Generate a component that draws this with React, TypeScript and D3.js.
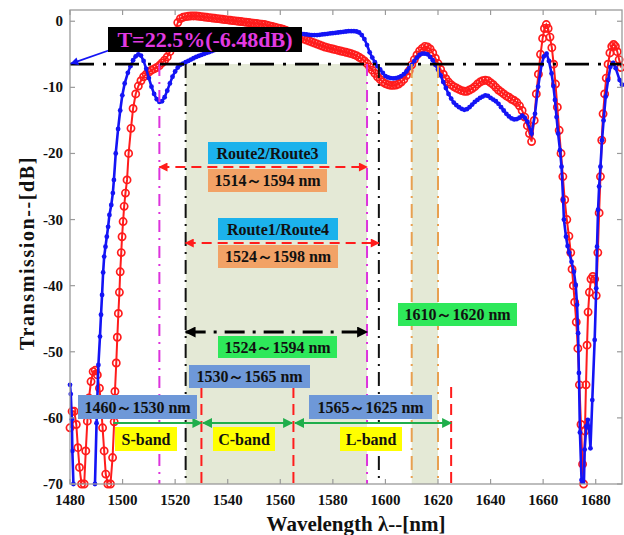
import React from 'react';
import * as d3 from 'd3';

const xTicks = [1480, 1500, 1520, 1540, 1560, 1580, 1600, 1620, 1640, 1660, 1680];
const yTicks = [0, -10, -20, -30, -40, -50, -60, -70];

const thresholdDb = -6.48;
const shadedBands: [number, number][] = [[1524, 1593], [1610, 1620]];
const magentaLines = [1514, 1593];
const blackLines = [1524, 1597.5];
const orangeLines = [1610, 1620];
const redBandLines = [1530, 1565, 1625];

const redSeries: [number, number][] = [
  [1480, -61.5], [1480.8, -59], [1481.6, -59], [1482.4, -61], [1483, -64.5], [1483.6, -67.5], [1484.4, -70], [1485.4, -70],
  [1486, -65], [1486.6, -60.5], [1487.2, -57], [1488, -54.5], [1488.8, -53], [1489.6, -52.8], [1490.4, -53.5], [1491.2, -55.5],
  [1491.8, -58], [1492.4, -61.5], [1493, -65], [1493.6, -68.5], [1494.4, -70], [1495.4, -70], [1496.2, -66], [1496.8, -60.6],
  [1497.1, -56], [1497.6, -51.7], [1498, -47.8], [1498.4, -44.2], [1498.8, -41], [1499.1, -37.9], [1499.5, -35], [1499.8, -32.6],
  [1500.2, -30.3], [1500.6, -28], [1501.1, -26], [1501.7, -24], [1502.3, -20], [1503.2, -16.2], [1504, -13.2],
  [1505, -11], [1506, -9.8], [1507, -9], [1508, -8.4], [1509, -8], [1510, -7.7], [1511, -7.4], [1512, -7.2], [1513, -7],
  [1514, -6.7], [1515, -6.3], [1516, -5.9], [1517, -5.4], [1518, -4.6], [1519, -3.2], [1520, -1.5], [1521, -0.2],
  [1522, 0.4], [1523, 0.6], [1524, 0.7], [1525, 0.75], [1526, 0.8], [1527, 0.8], [1528, 0.8], [1529, 0.75], [1530, 0.7],
  [1531, 0.65], [1532, 0.6], [1533, 0.55], [1534, 0.5], [1535, 0.45], [1536, 0.4], [1537, 0.35], [1538, 0.3], [1539, 0.25],
  [1540, 0.2], [1541, 0.15], [1542, 0.1], [1543, 0.05], [1544, 0], [1545, -0.05], [1546, -0.1], [1547, -0.15], [1548, -0.2],
  [1549, -0.25], [1550, -0.3], [1551, -0.35], [1552, -0.4], [1553, -0.45], [1554, -0.5], [1555, -0.6], [1556, -0.7],
  [1557, -0.8], [1558, -0.9], [1559, -1], [1560, -1.1], [1561, -1.2], [1562, -1.35], [1563, -1.5], [1564, -1.7], [1565, -1.9],
  [1566, -2.1], [1567, -2.3], [1568, -2.5], [1569, -2.7], [1570, -2.85], [1571, -3], [1572, -3.15], [1573, -3.3],
  [1574, -3.45], [1575, -3.6], [1576, -3.75], [1577, -3.9], [1578, -4], [1579, -4.1], [1580, -4.2], [1581, -4.3],
  [1582, -4.4], [1583, -4.5], [1584, -4.6], [1585, -4.7], [1586, -4.8], [1587, -4.9], [1588, -5.05], [1589, -5.2],
  [1590, -5.45], [1591, -5.7], [1592, -6], [1593, -6.4], [1594, -6.9], [1595, -7.4], [1596, -7.9], [1597, -8.4],
  [1598, -8.8], [1599, -9.2], [1600, -9.45], [1601, -9.6], [1602, -9.7], [1603, -9.7], [1604, -9.65], [1605, -9.5],
  [1606, -9.2], [1607, -8.8], [1608, -8.2], [1609, -7.5], [1610, -6.6], [1611, -5.8], [1612, -5.1], [1613, -4.5],
  [1614, -4.1], [1615, -3.8], [1616, -3.9], [1617, -4.2], [1618, -4.8], [1619, -5.6], [1620, -6.4], [1621, -7.3],
  [1622, -8], [1623, -8.7], [1624, -9.2], [1625, -9.6], [1626, -9.9], [1627, -10.1], [1628, -10.3], [1629, -10.5],
  [1630, -10.6], [1631, -10.6], [1632, -10.4], [1633, -10.2], [1634, -9.9], [1635, -9.5], [1636, -9.2], [1637, -9],
  [1638, -8.9], [1639, -9], [1640, -9.3], [1641, -9.6], [1642, -10], [1643, -10.4], [1644, -10.7], [1645, -11],
  [1646, -11.3], [1647, -11.5], [1648, -11.8], [1649, -12], [1650, -12.3], [1651, -12.8], [1652, -13.5], [1653, -14.5],
  [1654, -15.8], [1654.8, -17], [1655.6, -18.2], [1656.6, -15], [1657.4, -11], [1658.2, -8],
  [1659, -5], [1659.8, -2.6], [1660.5, -1.1], [1661.2, -0.5], [1661.9, -1.1], [1662.6, -2.4], [1663.3, -4], [1664, -6.5],
  [1664.7, -9.5], [1665.4, -13], [1666.1, -16.5], [1666.8, -20], [1667.5, -23.5], [1668.2, -27], [1669, -30], [1669.8, -32.5],
  [1670.5, -35], [1671, -37.5], [1671.5, -40], [1672, -42.5], [1672.6, -45.5], [1673.2, -49.5], [1673.8, -55], [1674.4, -61],
  [1675, -67], [1675.4, -70], [1675.9, -62], [1676.3, -55], [1676.7, -49], [1677.1, -44], [1677.6, -41], [1678.2, -39],
  [1678.9, -38.6], [1679.6, -39], [1680.2, -41.5], [1680.8, -35], [1681.3, -29], [1681.8, -23.5], [1682.3, -18], [1682.8, -14],
  [1683.4, -11], [1684, -8.6], [1684.7, -6.5], [1685.4, -4.8], [1686.1, -3.8], [1686.8, -3.5], [1687.5, -3.8], [1688.2, -4.6],
  [1688.9, -5.8], [1689.6, -7],
];

const blueSeries: [number, number][] = [
  [1480, -55], [1480.3, -56.4], [1480.7, -60.2], [1480.9, -65], [1481.3, -70], [1481.6, -75], [1489.2, -75], [1489.5, -70],
  [1490.1, -60.8], [1490.8, -52], [1491.4, -47.7], [1491.8, -44.4], [1492.2, -41.4], [1492.6, -38], [1493, -35.6],
  [1493.5, -34.1], [1494, -32.6], [1494.5, -31.1], [1495, -29.3], [1495.7, -27.8], [1496.3, -26], [1496.7, -24],
  [1497.4, -20], [1498.3, -16.3], [1499.1, -13.5], [1499.9, -11.2], [1500.8, -9.4],
  [1502, -7.8], [1503, -6.8], [1504, -5.9], [1505, -5.3], [1506, -5], [1507, -5.2], [1508, -6], [1509, -7.2], [1510, -8.6],
  [1511, -9.9], [1512, -11], [1513, -11.8], [1514, -12.2], [1515, -12.1], [1516, -11.5], [1517, -10.5], [1518, -9.4],
  [1519, -8.4], [1520, -7.6], [1521, -7], [1522, -6.6], [1523, -6.4], [1524, -6.2], [1525, -6], [1526, -5.8], [1527, -5.6],
  [1528, -5.4], [1529, -5.25], [1530, -5.1], [1531, -4.95], [1532, -4.8], [1533, -4.65], [1534, -4.5], [1535, -4.35],
  [1536, -4.2], [1537, -4.05], [1538, -3.9], [1539, -3.75], [1540, -3.6], [1541, -3.45], [1542, -3.3], [1543, -3.15],
  [1544, -3], [1545, -2.9], [1546, -2.8], [1547, -2.7], [1548, -2.6], [1549, -2.5], [1550, -2.4], [1551, -2.3], [1552, -2.2],
  [1553, -2.1], [1554, -2], [1555, -1.95], [1556, -1.9], [1557, -1.85], [1558, -1.8], [1559, -1.8], [1560, -1.8],
  [1561, -1.8], [1562, -1.8], [1563, -1.85], [1564, -1.9], [1565, -1.9], [1566, -1.9], [1567, -1.9], [1568, -1.9],
  [1569, -1.95], [1570, -2], [1571, -2.05], [1572, -2.1], [1573, -2.1], [1574, -2.1], [1575, -2.05], [1576, -2],
  [1577, -1.95], [1578, -1.9], [1579, -1.85], [1580, -1.8], [1581, -1.75], [1582, -1.7], [1583, -1.65], [1584, -1.6],
  [1585, -1.55], [1586, -1.5], [1587, -1.5], [1588, -1.5], [1589, -1.55], [1590, -1.7], [1591, -2.1], [1592, -2.7],
  [1593, -3.6], [1594, -4.7], [1595, -5.5], [1596, -6.2], [1597, -6.8], [1598, -7.3], [1599, -7.8], [1600, -8.3],
  [1601, -8.5], [1602, -8.6], [1603, -8.65], [1604, -8.6], [1605, -8.5], [1606, -8.3], [1607, -8], [1608, -7.6],
  [1609, -7.1], [1610, -6.6], [1611, -6], [1612, -5.5], [1613, -5.1], [1614, -4.9], [1615, -4.9], [1616, -5],
  [1617, -5.4], [1618, -5.9], [1619, -6.6], [1620, -7.3], [1621, -8.2], [1622, -9.2], [1623, -10.1], [1624, -11],
  [1625, -11.7], [1626, -12.3], [1627, -12.7], [1628, -13], [1629, -13.25], [1630, -13.4], [1631, -13.3], [1632, -13],
  [1633, -12.6], [1634, -12.2], [1635, -11.9], [1636, -11.6], [1637, -11.4], [1638, -11.2], [1639, -11.3], [1640, -11.6],
  [1641, -11.85], [1642, -12.1], [1643, -12.5], [1644, -13], [1645, -13.5], [1646, -14], [1647, -14.4], [1648, -14.7],
  [1649, -14.85], [1650, -14.8], [1651, -14.6], [1652, -14.3], [1653, -14.6], [1654, -15.2], [1655.6, -17], [1656.9, -14],
  [1658.1, -9.9], [1659.4, -6.6], [1660.3, -5.3], [1661.3, -4.9], [1662.2, -6], [1663.2, -7.9], [1663.9, -9.8], [1664.5, -11.9],
  [1665.1, -14.5], [1665.7, -17], [1666.4, -19.5], [1667, -22], [1667.6, -27], [1667.9, -30], [1668.7, -32.6], [1669.3, -34],
  [1669.9, -35], [1670.8, -36.4], [1671.7, -37.9], [1672.4, -39.9], [1672.9, -42.9], [1673.3, -47.2], [1673.6, -53.2],
  [1674, -62.2], [1674.6, -69.4], [1674.9, -73], [1675.4, -72], [1675.8, -64.8], [1676.4, -61.3], [1677, -60.3],
  [1677.5, -61.5], [1678, -64.6], [1678.7, -57.3], [1679.6, -48.2], [1680.2, -40.4], [1680.5, -34.1], [1680.9, -28.5],
  [1681.3, -25], [1681.8, -22], [1682.4, -18], [1683, -15], [1683.8, -11.4], [1684.7, -8.9], [1685.6, -6.9], [1686.6, -6.3],
  [1687.6, -7.1], [1689.1, -8.9], [1690, -9.6],
];

const FONT = "'Liberation Serif', 'Times New Roman', serif";
const W = 624;
const H = 535;
const PL = 70, PR = 622, PT = 10, PB = 484;

type Box = { x: number; y: number; w: number; h: number; fill: string; text: string; color?: string; size?: number };

export default function App() {
  const x = d3.scaleLinear().domain([1480, 1690]).range([PL, PR]);
  const y = d3.scaleLinear().domain([-70, 1.7]).range([PB, PT]);
  const line = d3.line<[number, number]>().x(d => x(d[0])).y(d => y(d[1]));
  const yT = y(thresholdDb);
  const grey = '#9a9a9a';

  const boxes: Box[] = [
    { x: 108, y: 27, w: 194, h: 25, fill: '#000', text: 'T=22.5%(-6.48dB)', color: '#e23ae2', size: 22 },
    { x: 208, y: 142, w: 119, h: 22, fill: '#1cb2ec', text: 'Route2/Route3' },
    { x: 208, y: 169, w: 119, h: 23, fill: '#f2a266', text: '1514～1594 nm' },
    { x: 218, y: 218, w: 120, h: 22, fill: '#1cb2ec', text: 'Route1/Route4' },
    { x: 218, y: 245, w: 120, h: 23, fill: '#f2a266', text: '1524～1598 nm' },
    { x: 398, y: 303, w: 119, h: 23, fill: '#2ee85a', text: '1610～1620 nm' },
    { x: 218, y: 336, w: 119, h: 22, fill: '#2ee85a', text: '1524～1594 nm' },
    { x: 189, y: 365, w: 121, h: 23, fill: '#6e98d8', text: '1530～1565 nm' },
    { x: 78, y: 395, w: 119, h: 24, fill: '#6e98d8', text: '1460～1530 nm' },
    { x: 309, y: 395, w: 123, h: 24, fill: '#6e98d8', text: '1565～1625 nm' },
    { x: 115, y: 427, w: 62, h: 24, fill: '#ffff00', text: 'S-band' },
    { x: 213, y: 427, w: 62, h: 24, fill: '#ffff00', text: 'C-band' },
    { x: 340, y: 427, w: 62, h: 24, fill: '#ffff00', text: 'L-band' },
  ];

  const redC = '#ff1c1c';
  const blueC = '#1414f5';
  const greenC = '#1fae4b';

  return (
    <svg width={W} height={H} style={{ position: 'absolute', left: 0, top: 0, background: '#fff' }}>
      <defs>
        <clipPath id="plot">
          <rect x={PL} y={PT} width={PR - PL} height={PB - PT} />
        </clipPath>
        <marker id="ahRed" viewBox="0 0 10 10" refX="9" refY="5" markerUnits="userSpaceOnUse" markerWidth="13" markerHeight="9" orient="auto-start-reverse">
          <path d="M0,0 L10,5 L0,10 z" fill={redC} />
        </marker>
        <marker id="ahBlack" viewBox="0 0 10 10" refX="9" refY="5" markerUnits="userSpaceOnUse" markerWidth="17" markerHeight="11" orient="auto-start-reverse">
          <path d="M0,0 L10,5 L0,10 z" fill="#000" />
        </marker>
        <marker id="ahGreen" viewBox="0 0 10 10" refX="9" refY="5" markerUnits="userSpaceOnUse" markerWidth="14" markerHeight="10" orient="auto-start-reverse">
          <path d="M0,0 L10,5 L0,10 z" fill={greenC} />
        </marker>
        <marker id="ahBlue" viewBox="0 0 10 10" refX="9" refY="5" markerUnits="userSpaceOnUse" markerWidth="12" markerHeight="8" orient="auto-start-reverse">
          <path d="M0,0 L10,5 L0,10 z" fill={blueC} />
        </marker>
      </defs>

      {shadedBands.map(([a, b], i) => (
        <rect key={'sb' + i} x={x(a)} y={yT} width={x(b) - x(a)} height={PB - yT} fill="#e4e9d6" />
      ))}

      <g clipPath="url(#plot)">
        <path d={line(redSeries) || ''} fill="none" stroke={redC} strokeWidth={2} />
      </g>
      {redSeries.filter(d => d[1] >= -70.5).map((d, i) => (
        <circle key={'rc' + i} cx={x(d[0])} cy={y(d[1])} r={3.6} fill="none" stroke={redC} strokeWidth={1.7} />
      ))}
      <g clipPath="url(#plot)">
        <path d={line(blueSeries) || ''} fill="none" stroke={blueC} strokeWidth={2.6} />
      </g>
      {blueSeries.filter(d => d[1] >= -70.5).map((d, i) => (
        <circle key={'bc' + i} cx={x(d[0])} cy={y(d[1])} r={2.4} fill={blueC} />
      ))}

      {magentaLines.map((v, i) => (
        <line key={'ml' + i} x1={x(v)} x2={x(v)} y1={yT} y2={PB} stroke="#dd33dd" strokeWidth={2} strokeDasharray="12,6,2,6" />
      ))}
      {blackLines.map((v, i) => (
        <line key={'bl' + i} x1={x(v)} x2={x(v)} y1={yT} y2={PB} stroke="#111" strokeWidth={2} strokeDasharray="14,6,2,6" />
      ))}
      {orangeLines.map((v, i) => (
        <line key={'ol' + i} x1={x(v)} x2={x(v)} y1={yT} y2={PB} stroke="#e8a050" strokeWidth={2} strokeDasharray="14,6,2,6" />
      ))}
      {redBandLines.map((v, i) => (
        <line key={'rl' + i} x1={x(v)} x2={x(v)} y1={387} y2={PB} stroke={redC} strokeWidth={2} strokeDasharray="11,6" />
      ))}

      <line x1={PL} x2={PR} y1={yT} y2={yT} stroke="#000" strokeWidth={2.6} strokeDasharray="24,9,3,9" />

      <rect x={PL} y={PT} width={PR - PL} height={PB - PT} fill="none" stroke={grey} strokeWidth={1.3} />
      {xTicks.map(t => (
        <g key={'xt' + t}>
          <line x1={x(t)} x2={x(t)} y1={PB} y2={PB - 5} stroke={grey} strokeWidth={1.2} />
          <line x1={x(t)} x2={x(t)} y1={PT} y2={PT + 5} stroke={grey} strokeWidth={1.2} />
          <text x={x(t)} y={505} textAnchor="middle" fontFamily={FONT} fontWeight="bold" fontSize={15} fill="#111">{t}</text>
        </g>
      ))}
      {yTicks.map(t => (
        <g key={'yt' + t}>
          <line x1={PL} x2={PL + 5} y1={y(t)} y2={y(t)} stroke={grey} strokeWidth={1.2} />
          <line x1={PR} x2={PR - 5} y1={y(t)} y2={y(t)} stroke={grey} strokeWidth={1.2} />
          <text x={63} y={y(t) + 5} textAnchor="end" fontFamily={FONT} fontWeight="bold" fontSize={15} fill="#111">{t}</text>
        </g>
      ))}
      <text x={356} y={531} textAnchor="middle" fontFamily={FONT} fontWeight="bold" fontSize={21} fill="#111">Wavelength λ--[nm]</text>
      <text transform="translate(34,253) rotate(-90)" textAnchor="middle" fontFamily={FONT} fontWeight="bold" fontSize={20} letterSpacing={1.6} fill="#111">Transmission--[dB]</text>

      <line x1={x(magentaLines[0])} x2={x(magentaLines[1])} y1={167} y2={167} stroke={redC} strokeWidth={2} strokeDasharray="10,6" markerStart="url(#ahRed)" markerEnd="url(#ahRed)" />
      <line x1={x(blackLines[0])} x2={x(blackLines[1])} y1={243} y2={243} stroke={redC} strokeWidth={2} strokeDasharray="10,6" markerStart="url(#ahRed)" markerEnd="url(#ahRed)" />
      <line x1={x(1524)} x2={x(1593)} y1={332} y2={332} stroke="#000" strokeWidth={3} strokeDasharray="20,8,3,8" markerStart="url(#ahBlack)" markerEnd="url(#ahBlack)" />
      <line x1={x(1496.5)} x2={x(1530)} y1={423} y2={423} stroke={greenC} strokeWidth={2.2} markerEnd="url(#ahGreen)" />
      <line x1={x(1530.6)} x2={x(1564.5)} y1={423} y2={423} stroke={greenC} strokeWidth={2.2} markerStart="url(#ahGreen)" markerEnd="url(#ahGreen)" />
      <line x1={x(1565.6)} x2={x(1625)} y1={423} y2={423} stroke={greenC} strokeWidth={2.2} markerStart="url(#ahGreen)" markerEnd="url(#ahGreen)" />
      <line x1={110} x2={PL + 1} y1={50} y2={yT - 0.5} stroke={blueC} strokeWidth={1.8} markerEnd="url(#ahBlue)" />

      {boxes.map((b, i) => (
        <g key={'bx' + i}>
          <rect x={b.x} y={b.y} width={b.w} height={b.h} fill={b.fill} />
          <text x={b.x + b.w / 2} y={b.y + b.h / 2 + (b.size ? 7.5 : 5.5)} textAnchor="middle" fontFamily={FONT} fontWeight="bold" fontSize={b.size || 16} fill={b.color || '#111'}>{b.text}</text>
        </g>
      ))}
    </svg>
  );
}
